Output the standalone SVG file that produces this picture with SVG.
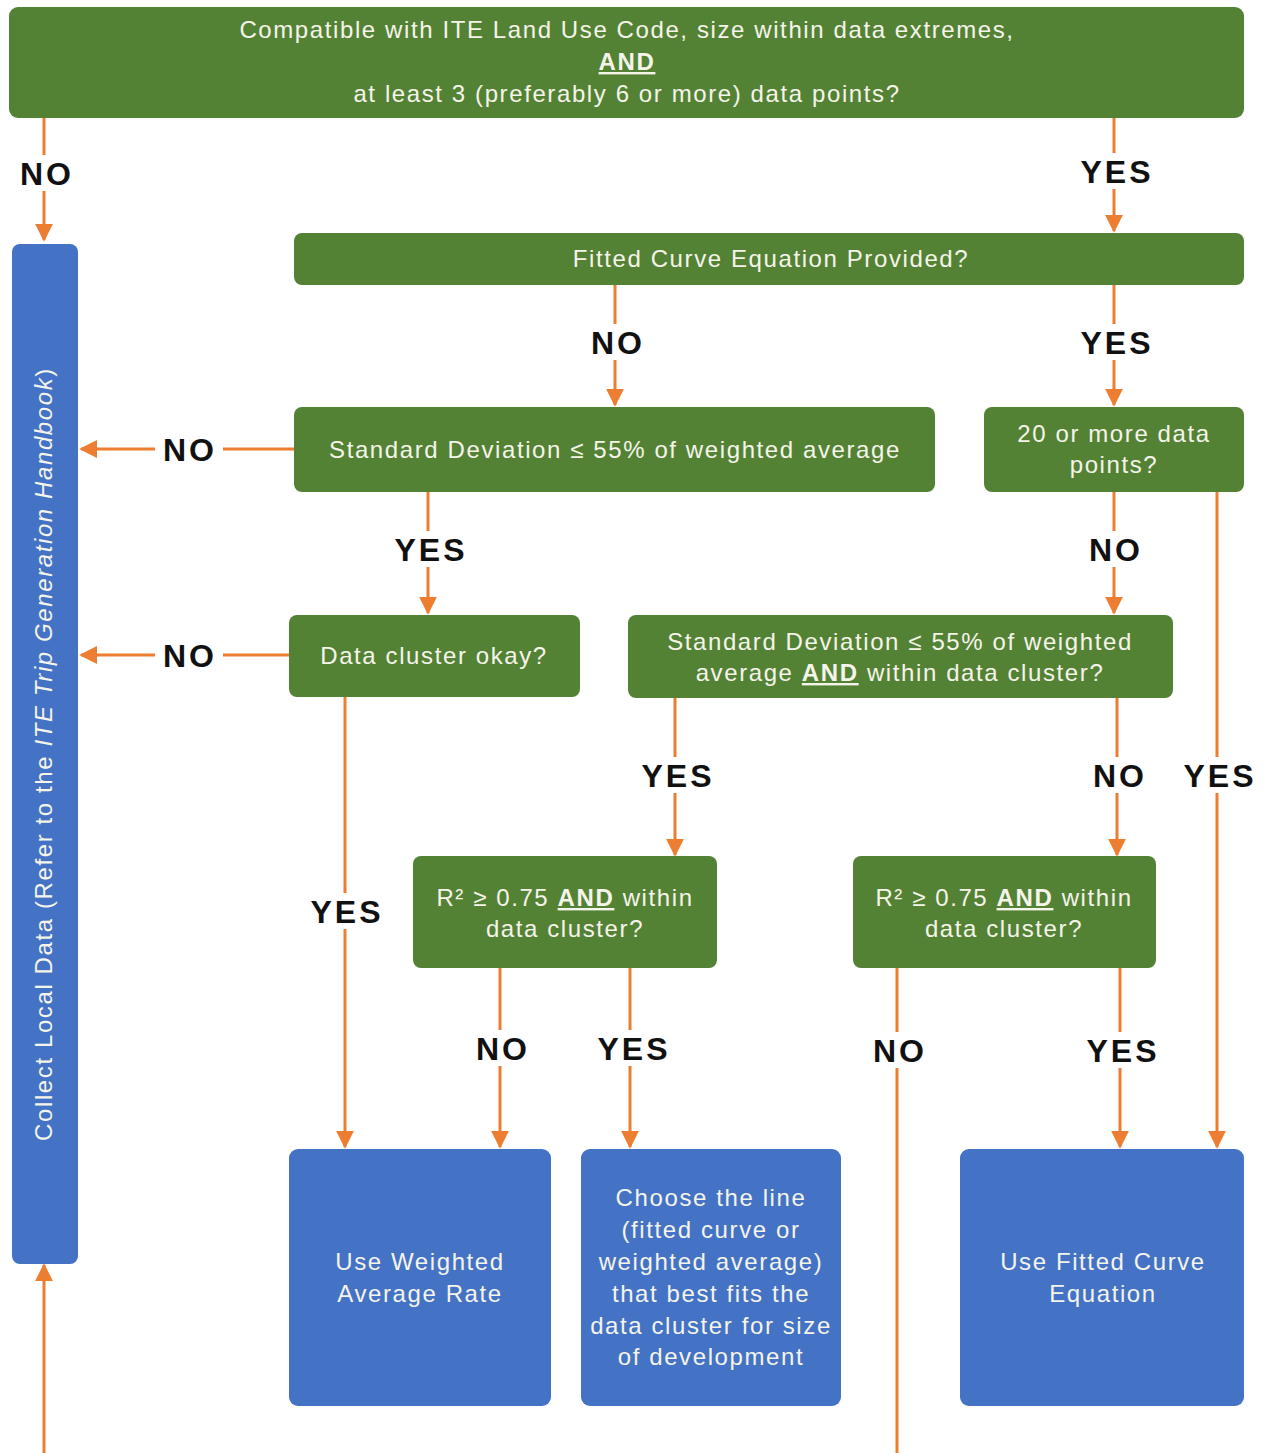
<svg xmlns="http://www.w3.org/2000/svg" width="1265" height="1453" viewBox="0 0 1265 1453">
  <style>
    .g { fill: #548235; }
    .b { fill: #4472c4; }
    .t { font-family: "Liberation Sans", Arial, sans-serif; font-size: 24px; fill: #f4f4ea; text-anchor: middle; letter-spacing: 1.6px; }
    .u { font-weight: bold; text-decoration: underline; }
    .lbl { font-family: "Liberation Sans", Arial, sans-serif; font-size: 32px; font-weight: bold; fill: #111; text-anchor: middle; letter-spacing: 3px; }
    .bg { fill: #ffffff; }
    .c { stroke: #ed7d31; stroke-width: 3; fill: none; }
  </style>
  <defs>
    <marker id="ah" viewBox="0 0 10 10" refX="9" refY="5" markerWidth="6" markerHeight="6" markerUnits="strokeWidth" orient="auto">
      <path d="M0,0 L10,5 L0,10 z" fill="#ed7d31"/>
    </marker>
  </defs>
  <rect width="1265" height="1453" fill="#ffffff"/>

  <!-- connectors -->
  <g id="connectors">
    <path class="c" d="M44,117 V240" marker-end="url(#ah)"/>
    <path class="c" d="M1114,117 V231" marker-end="url(#ah)"/>
    <path class="c" d="M615,284 V405" marker-end="url(#ah)"/>
    <path class="c" d="M1114,284 V405" marker-end="url(#ah)"/>
    <path class="c" d="M294,449 H81" marker-end="url(#ah)"/>
    <path class="c" d="M428,491 V613" marker-end="url(#ah)"/>
    <path class="c" d="M1114,491 V613" marker-end="url(#ah)"/>
    <path class="c" d="M1217,491 V1147" marker-end="url(#ah)"/>
    <path class="c" d="M289,655 H81" marker-end="url(#ah)"/>
    <path class="c" d="M345,696 V1147" marker-end="url(#ah)"/>
    <path class="c" d="M675,697 V855" marker-end="url(#ah)"/>
    <path class="c" d="M1117,697 V855" marker-end="url(#ah)"/>
    <path class="c" d="M500,967 V1147" marker-end="url(#ah)"/>
    <path class="c" d="M630,967 V1147" marker-end="url(#ah)"/>
    <path class="c" d="M897,967 V1453"/>
    <path class="c" d="M1120,967 V1147" marker-end="url(#ah)"/>
    <path class="c" d="M44,1453 V1265" marker-end="url(#ah)"/>

    <!-- branch labels -->
    <g>
      <rect class="bg" x="14" y="155" width="62" height="36"/>
      <text class="lbl" x="47" y="185">NO</text>
      <rect class="bg" x="1072" y="153" width="88" height="36"/>
      <text class="lbl" x="1117" y="183">YES</text>
      <rect class="bg" x="585" y="324" width="64" height="36"/>
      <text class="lbl" x="618" y="354">NO</text>
      <rect class="bg" x="1072" y="324" width="88" height="36"/>
      <text class="lbl" x="1117" y="354">YES</text>
      <rect class="bg" x="155" y="431" width="68" height="36"/>
      <text class="lbl" x="190" y="461">NO</text>
      <rect class="bg" x="386" y="531" width="88" height="36"/>
      <text class="lbl" x="431" y="561">YES</text>
      <rect class="bg" x="1083" y="531" width="64" height="36"/>
      <text class="lbl" x="1116" y="561">NO</text>
      <rect class="bg" x="155" y="637" width="68" height="36"/>
      <text class="lbl" x="190" y="667">NO</text>
      <rect class="bg" x="634" y="757" width="88" height="36"/>
      <text class="lbl" x="678" y="787">YES</text>
      <rect class="bg" x="1086" y="757" width="64" height="36"/>
      <text class="lbl" x="1120" y="787">NO</text>
      <rect class="bg" x="1175" y="757" width="88" height="36"/>
      <text class="lbl" x="1220" y="787">YES</text>
      <rect class="bg" x="302" y="893" width="88" height="36"/>
      <text class="lbl" x="347" y="923">YES</text>
      <rect class="bg" x="470" y="1030" width="64" height="36"/>
      <text class="lbl" x="503" y="1060">NO</text>
      <rect class="bg" x="589" y="1030" width="88" height="36"/>
      <text class="lbl" x="634" y="1060">YES</text>
      <rect class="bg" x="867" y="1032" width="64" height="36"/>
      <text class="lbl" x="900" y="1062">NO</text>
      <rect class="bg" x="1078" y="1032" width="88" height="36"/>
      <text class="lbl" x="1123" y="1062">YES</text>
    </g>
  </g>

  <!-- decision: ITE compatibility -->
  <g id="n-compatible">
    <rect class="g" x="9" y="7" width="1235" height="111" rx="9"/>
    <text class="t" x="627" y="38">Compatible with ITE Land Use Code, size within data extremes,</text>
    <text class="t" x="627" y="70"><tspan class="u">AND</tspan></text>
    <text class="t" x="627" y="102">at least 3 (preferably 6 or more) data points?</text>
  </g>

  <!-- action: collect local data -->
  <g id="n-collect">
    <rect class="b" x="12" y="244" width="66" height="1020" rx="8"/>
    <text class="t" transform="translate(52,754) rotate(-90)">Collect Local Data (Refer to the <tspan font-style="italic">ITE Trip Generation Handbook</tspan>)</text>
  </g>

  <!-- decision: fitted curve provided -->
  <g id="n-fitted">
    <rect class="g" x="294" y="233" width="950" height="52" rx="8"/>
    <text class="t" x="771" y="267">Fitted Curve Equation Provided?</text>
  </g>

  <!-- decision: standard deviation -->
  <g id="n-stddev">
    <rect class="g" x="294" y="407" width="641" height="85" rx="8"/>
    <text class="t" x="615" y="458">Standard Deviation ≤ 55% of weighted average</text>
  </g>

  <!-- decision: 20 or more points -->
  <g id="n-twenty">
    <rect class="g" x="984" y="407" width="260" height="85" rx="8"/>
    <text class="t" x="1114" y="442">20 or more data</text>
    <text class="t" x="1114" y="473">points?</text>
  </g>

  <!-- decision: data cluster -->
  <g id="n-cluster">
    <rect class="g" x="289" y="615" width="291" height="82" rx="8"/>
    <text class="t" x="434" y="664">Data cluster okay?</text>
  </g>

  <!-- decision: standard deviation within cluster -->
  <g id="n-stddev-cluster">
    <rect class="g" x="628" y="615" width="545" height="83" rx="8"/>
    <text class="t" x="900" y="650">Standard Deviation ≤ 55% of weighted</text>
    <text class="t" x="900" y="681">average <tspan class="u">AND</tspan> within data cluster?</text>
  </g>

  <!-- decision: R squared (left) -->
  <g id="n-r2-left">
    <rect class="g" x="413" y="856" width="304" height="112" rx="8"/>
    <text class="t" x="565" y="906">R² ≥ 0.75 <tspan class="u">AND</tspan> within</text>
    <text class="t" x="565" y="937">data cluster?</text>
  </g>

  <!-- decision: R squared (right) -->
  <g id="n-r2-right">
    <rect class="g" x="853" y="856" width="303" height="112" rx="8"/>
    <text class="t" x="1004" y="906">R² ≥ 0.75 <tspan class="u">AND</tspan> within</text>
    <text class="t" x="1004" y="937">data cluster?</text>
  </g>

  <!-- outcome: weighted average -->
  <g id="n-weighted">
    <rect class="b" x="289" y="1149" width="262" height="257" rx="9"/>
    <text class="t" x="420" y="1270">Use Weighted</text>
    <text class="t" x="420" y="1302">Average Rate</text>
  </g>

  <!-- outcome: choose the line -->
  <g id="n-choose">
    <rect class="b" x="581" y="1149" width="260" height="257" rx="9"/>
    <text class="t" x="711" y="1206">Choose the line</text>
    <text class="t" x="711" y="1238">(fitted curve or</text>
    <text class="t" x="711" y="1270">weighted average)</text>
    <text class="t" x="711" y="1302">that best fits the</text>
    <text class="t" x="711" y="1334">data cluster for size</text>
    <text class="t" x="711" y="1365">of development</text>
  </g>

  <!-- outcome: fitted curve -->
  <g id="n-use-fitted">
    <rect class="b" x="960" y="1149" width="284" height="257" rx="9"/>
    <text class="t" x="1103" y="1270">Use Fitted Curve</text>
    <text class="t" x="1103" y="1302">Equation</text>
  </g>
</svg>
